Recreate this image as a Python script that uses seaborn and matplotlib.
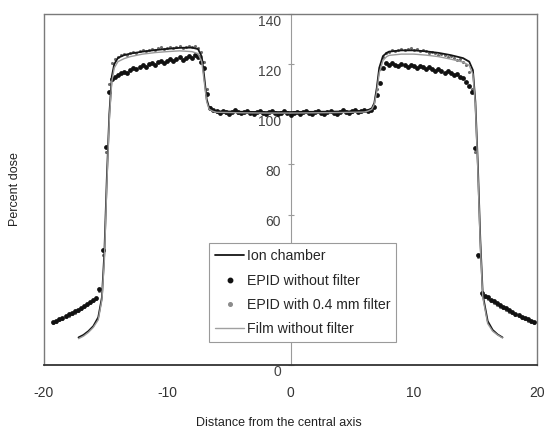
import matplotlib
matplotlib.use("Agg")
import matplotlib.pyplot as plt
import matplotlib.transforms as mtransforms
from matplotlib.lines import Line2D
import seaborn as sns

# point-probe profiles (ion chamber and film), position in cm, percent dose
probe_x = [-17.2, -16.8, -16.4, -16.0, -15.6, -15.3, -15.1, -14.9, -14.7, -14.5,
           -14.3, -14.0, -13.5, -13.0, -12.0, -11.0, -10.0, -9.0, -8.0, -7.5,
           -7.2, -7.0, -6.8, -6.6, -6.3, -6.0, -4.0, -2.0, 0.0, 2.0,
           4.0, 6.0, 6.3, 6.6, 6.8, 7.0, 7.2, 7.5, 7.8, 8.0,
           9.0, 10.0, 11.0, 12.0, 13.0, 14.0, 14.5, 14.8, 15.0, 15.2,
           15.4, 15.6, 16.0, 16.4, 16.8, 17.2]
ion_chamber = [11.0, 12.0, 13.5, 15.5, 19.0, 27.0, 45.0, 75.0, 100.0, 115.0,
               120.0, 122.5, 123.6, 124.2, 125.0, 125.6, 126.1, 126.5, 126.6, 126.0,
               123.0, 115.0, 106.0, 102.6, 101.6, 101.2, 101.0, 100.9, 100.9, 101.0,
               101.1, 101.3, 101.7, 102.4, 104.5, 110.5, 118.5, 123.2, 124.5, 125.0,
               125.5, 125.5, 125.1, 124.5, 123.6, 122.4, 121.0, 117.6, 105.0, 80.0,
               50.0, 28.0, 17.5, 14.0, 12.2, 11.0]
film = [10.5, 11.5, 13.0, 15.0, 18.0, 26.0, 42.0, 72.0, 98.0, 113.0,
        118.5, 121.0, 122.2, 123.0, 124.0, 124.6, 125.0, 125.3, 125.0, 124.2,
        121.0, 113.0, 105.0, 102.0, 101.2, 100.8, 100.6, 100.5, 100.5, 100.6,
        100.7, 100.9, 101.3, 102.0, 104.0, 109.0, 116.5, 121.5, 123.0, 123.5,
        124.0, 124.0, 123.6, 123.0, 122.0, 120.8, 119.5, 116.0, 104.0, 78.0,
        48.0, 27.0, 16.5, 13.5, 12.0, 10.8]

# EPID pixel positions (cm)
epid_x = [-19.25, -19.0, -18.75, -18.5, -18.25, -18.0, -17.75, -17.5, -17.25, -17.0,
          -16.75, -16.5, -16.25, -16.0, -15.75,
          -15.5, -15.25, -15.0, -14.75, -14.5,
          -14.25, -14.0, -13.75, -13.5, -13.25, -13.0, -12.75, -12.5, -12.25, -12.0,
          -11.75, -11.5, -11.25, -11.0, -10.75, -10.5, -10.25, -10.0, -9.75, -9.5,
          -9.25, -9.0, -8.75, -8.5, -8.25, -8.0, -7.75, -7.5, -7.25, -7.0,
          -6.75, -6.5, -6.25,
          -6.0, -5.75, -5.5, -5.25, -5.0, -4.75, -4.5, -4.25, -4.0, -3.75,
          -3.5, -3.25, -3.0, -2.75, -2.5, -2.25, -2.0, -1.75, -1.5, -1.25,
          -1.0, -0.75, -0.5, -0.25, 0.0, 0.25, 0.5, 0.75, 1.0, 1.25,
          1.5, 1.75, 2.0, 2.25, 2.5, 2.75, 3.0, 3.25, 3.5, 3.75,
          4.0, 4.25, 4.5, 4.75, 5.0, 5.25, 5.5, 5.75, 6.0, 6.25, 6.5,
          6.75, 7.0, 7.25, 7.5, 7.75,
          8.0, 8.25, 8.5, 8.75, 9.0, 9.25, 9.5, 9.75, 10.0, 10.25,
          10.5, 10.75, 11.0, 11.25, 11.5, 11.75, 12.0, 12.25, 12.5, 12.75,
          13.0, 13.25, 13.5, 13.75, 14.0, 14.25, 14.5,
          14.75, 15.0, 15.25, 15.5,
          15.75, 16.0, 16.25, 16.5, 16.75, 17.0, 17.25, 17.5, 17.75, 18.0,
          18.25, 18.5, 18.75, 19.0, 19.25, 19.5, 19.75]
epid_no_filter = [17.2, 17.7, 18.4, 18.9, 19.6, 20.2, 20.8, 21.5, 22.1, 22.8,
                  23.5, 24.2, 25.0, 25.8, 26.7,
                  30.3, 46.0, 87.0, 108.9, 114.1,
                  115.0, 115.6, 116.4, 117.0, 116.6, 117.8, 118.5, 117.9, 118.9, 119.6,
                  119.0, 119.9, 120.6, 119.8, 120.7, 121.4, 120.5, 121.3, 122.0, 121.2,
                  122.1, 122.8, 121.8, 122.6, 123.4, 122.6, 123.5, 122.8, 121.0, 118.5,
                  108.0, 102.4, 101.6,
                  101.2, 100.6, 101.4, 100.9, 100.3, 101.1, 101.6, 100.8, 100.4, 101.0,
                  101.5, 100.7, 100.2, 100.9, 101.3, 100.6, 100.1, 100.8, 101.4, 100.5,
                  100.0, 100.7, 101.2, 100.4, 99.9, 100.6, 101.1, 100.3, 100.8, 101.3,
                  100.5, 100.1, 100.9, 101.4, 100.6, 100.2, 101.0, 101.5, 100.7, 100.3,
                  101.1, 101.6, 100.8, 100.4, 101.2, 101.7, 100.9, 101.3, 101.8, 101.2, 101.9,
                  102.9, 107.5, 112.3, 118.5, 120.3,
                  119.5, 120.4, 119.8, 119.2, 120.1, 119.5, 118.9, 119.8, 119.2, 118.6,
                  119.4, 118.7, 118.0, 118.8, 118.1, 117.4, 118.1, 117.3, 116.6, 117.2,
                  116.3, 115.6, 116.0, 115.0, 114.3, 113.0, 111.2,
                  109.0, 86.6, 43.9, 28.6,
                  27.6, 27.0, 26.1, 25.5, 24.6, 23.9, 23.2, 22.6, 21.8, 21.2,
                  20.5, 19.9, 19.3, 18.7, 18.2, 17.6, 17.1]
epid_filter = [16.6, 17.2, 17.8, 18.4, 19.0, 19.6, 20.3, 20.9, 21.6, 22.3,
               23.0, 23.8, 24.6, 25.4, 26.2,
               29.5, 44.0, 85.0, 112.0, 120.5,
               122.0, 123.0, 123.6, 124.2, 123.8, 124.6, 125.0, 124.5, 125.2, 125.6,
               125.1, 125.8, 126.2, 125.6, 126.3, 126.7, 126.0, 126.6, 127.0, 126.3,
               126.9, 127.2, 126.5, 127.0, 127.4, 126.8, 127.2, 126.6, 125.0, 121.0,
               110.0, 103.0, 101.8,
               101.0, 100.8, 101.2, 100.7, 100.5, 101.0, 101.3, 100.6, 100.6, 101.1,
               101.2, 100.6, 100.4, 100.9, 101.1, 100.5, 100.3, 100.9, 101.2, 100.6,
               100.2, 100.8, 101.0, 100.5, 100.2, 100.7, 101.0, 100.5, 100.9, 101.1,
               100.6, 100.3, 100.9, 101.2, 100.7, 100.4, 101.0, 101.3, 100.8, 100.5,
               101.0, 101.4, 100.9, 100.6, 101.1, 101.5, 101.0, 101.2, 101.6, 101.3, 101.8,
               103.5, 110.0, 118.0, 123.0, 124.6,
               125.0, 125.6, 125.2, 125.8, 126.1, 125.5, 126.0, 126.3, 125.7, 126.0,
               125.4, 125.8, 125.2, 124.6, 125.0, 124.4, 123.8, 124.2, 123.5, 122.9,
               123.2, 122.4, 121.8, 122.1, 121.0, 119.5, 117.0,
               110.0, 85.0, 43.0, 28.0,
               27.0, 26.3, 25.5, 24.8, 24.0, 23.3, 22.6, 22.0, 21.3, 20.6,
               20.0, 19.4, 18.8, 18.2, 17.7, 17.2, 16.7]

x_ticks = [-20, -10, 0, 10, 20]
y_ticks = [0, 20, 40, 60, 80, 100, 120, 140]
# 20 and 40 sit behind the legend box in the original, so they show no text
y_tick_labels = ["0", "", "", "60", "80", "100", "120", "140"]

sns.set_style("white")
plt.rcParams["font.family"] = ["Liberation Sans", "DejaVu Sans"]
plt.rcParams["axes.unicode_minus"] = False

fig = plt.figure(figsize=(5.48, 4.34), dpi=100)
ax = fig.add_axes([44 / 548, 1 - 365 / 434, 493 / 548, 351 / 434])

sns.scatterplot(x=epid_x, y=epid_filter, color="#6e6e6e", s=5, linewidth=0, ax=ax, zorder=3)
sns.lineplot(x=probe_x, y=ion_chamber, sort=False, estimator=None, color="#151515",
             linewidth=1.3, ax=ax, zorder=4)
sns.scatterplot(x=epid_x, y=epid_no_filter, color="#111111", s=12, linewidth=0, ax=ax, zorder=5)
sns.lineplot(x=probe_x, y=film, sort=False, estimator=None, color="#9a9a9a",
             linewidth=1.0, ax=ax, zorder=6)

ax.set_xlim(-20, 20)
ax.set_ylim(0, 140)
ax.set_xticks(x_ticks)
ax.set_yticks(y_ticks)
ax.set_yticklabels(y_tick_labels)

# y axis crosses at the centre, the rest of the frame is a plain box
ax.spines["left"].set_position(("data", 0))
ax.spines["left"].set_color("#9a9a9a")
ax.spines["left"].set_linewidth(0.8)
for side in ["top", "right"]:
    ax.spines[side].set_color("#7a7a7a")
    ax.spines[side].set_linewidth(1.0)
ax.spines["bottom"].set_color("#333333")
ax.spines["bottom"].set_linewidth(1.3)
ax.axvline(-20, color="#7a7a7a", linewidth=1.0, clip_on=False)

ax.tick_params(axis="y", direction="inout", length=4, width=0.8, color="#9a9a9a",
               pad=5, labelsize=10, labelcolor="#444444", left=True)
ax.tick_params(axis="x", length=0, pad=15, labelsize=10, labelcolor="#333333")
shift = mtransforms.ScaledTranslation(0, -6 / 100, fig.dpi_scale_trans)
for lab in ax.get_yticklabels():
    lab.set_transform(lab.get_transform() + shift)

ax.set_xlabel("Distance from the central axis", fontsize=9, color="#222222")
ax.xaxis.set_label_coords((279 - 44) / 493, -0.148)
ax.set_ylabel("Percent dose", fontsize=9, color="#222222")
ax.yaxis.set_label_coords(-0.047, 0.5)

handles = [
    Line2D([], [], color="#151515", linewidth=1.3),
    Line2D([], [], color="#111111", marker="o", markersize=3.2, linestyle="none"),
    Line2D([], [], color="#8c8c8c", marker="o", markersize=2.6, linestyle="none"),
    Line2D([], [], color="#a0a0a0", linewidth=1.0),
]
labels = ["Ion chamber", "EPID without filter", "EPID with 0.4 mm filter", "Film without filter"]
leg = ax.legend(handles, labels, loc="upper left",
                bbox_to_anchor=((209 - 44) / 493, (365 - 243) / 351),
                borderaxespad=0, fontsize=10.2, frameon=True, fancybox=False,
                framealpha=1, edgecolor="#9a9a9a", handlelength=2.0,
                handletextpad=0.2, labelspacing=0.72, borderpad=0.45)
leg.get_frame().set_linewidth(0.8)
leg.set_zorder(10)

fig.savefig("out.png", dpi=100)
